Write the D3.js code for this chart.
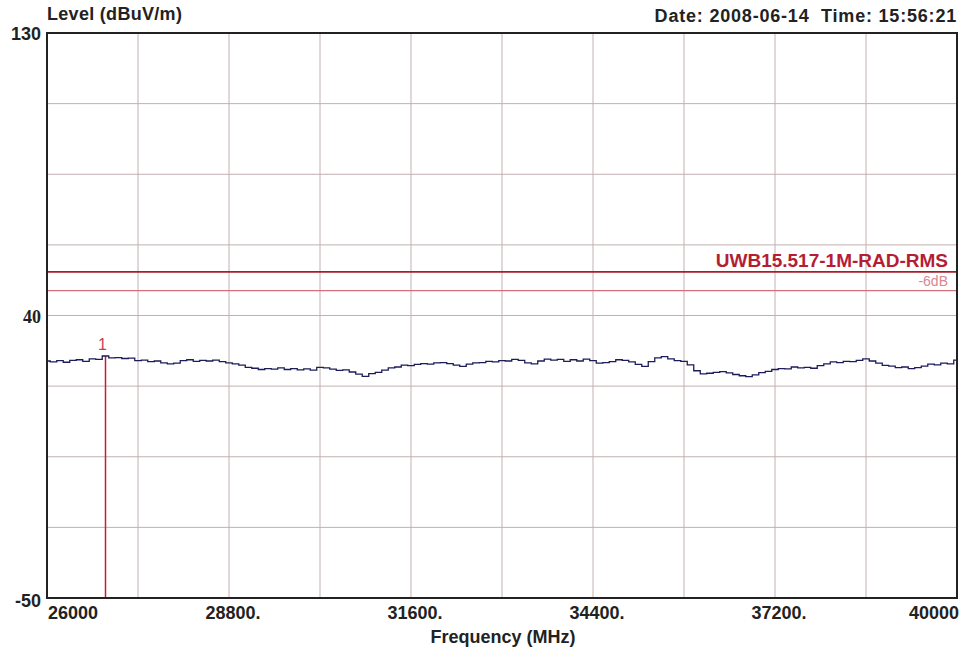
<!DOCTYPE html>
<html>
<head>
<meta charset="utf-8">
<script src="https://cdn.jsdelivr.net/npm/d3@7"></script>
<style>
  body { margin: 0; background: #fff; }
  text { font-family: "Liberation Sans", Arial, sans-serif; white-space: pre; }
</style>
</head>
<body id="body">
<script>
// values
var freqStart = 26000, freqEnd = 40000, freqStep = 100;
var levels = [
  25.5, 25.2, 25.6, 25.1, 25.7, 25.9, 25.4, 26.2, 26.0, 27.1,
  26.5, 26.6, 26.3, 26.4, 25.6, 25.8, 25.3, 25.5, 24.9, 24.6,
  24.8, 25.6, 25.9, 25.4, 25.7, 25.5, 25.8, 25.3, 24.9, 24.6,
  24.2, 23.5, 23.2, 22.8, 23.1, 22.9, 23.3, 22.8, 23.1, 22.7,
  23.0, 22.6, 23.5, 23.3, 22.9, 22.5, 22.7, 22.0, 21.3, 20.6,
  21.5, 21.9, 22.6, 23.3, 23.6, 24.2, 24.0, 24.4, 24.7, 24.5,
  24.9, 25.0, 24.7, 24.2, 23.8, 24.5, 24.9, 25.0, 25.4, 25.2,
  25.6, 25.5, 26.0, 25.7, 24.9, 24.6, 25.5, 26.1, 25.8, 26.0,
  25.4, 25.9, 25.5, 26.1, 25.6, 24.8, 25.0, 25.3, 25.9, 25.7,
  25.2, 24.4, 23.8, 25.3, 26.5, 26.9, 26.2, 25.6, 25.4, 24.3,
  22.4, 21.4, 21.6, 21.9, 22.1, 21.7, 21.2, 20.8, 20.5, 21.1,
  21.8, 22.2, 22.8, 23.1, 23.0, 23.6, 23.3, 23.5, 23.2, 24.0,
  24.6, 25.2, 25.0, 25.4, 25.3, 25.7, 26.2, 25.5, 24.8, 24.1,
  23.9, 23.4, 23.6, 23.1, 23.4, 23.9, 24.5, 24.3, 24.8, 24.6,
  25.8
];
var freqs = d3.range(freqStart, freqEnd + 1, freqStep);

var yTickValues = [130, 40, -50];
var xTickValues = [26000, 28800, 31600, 34400, 37200, 40000];
var xTickLabels = ["26000", "28800.", "31600.", "34400.", "37200.", "40000"];
var limitValue = 53.9;
var limitLabel = "UWB15.517-1M-RAD-RMS";
var limit6Value = 47.9;
var limit6Label = "-6dB";
var markerFreq = 26900;
var markerLabel = "1";

function RenderChart() {
    var W = 976, H = 649;
    var mLeft = 47, mTop = 33, pw = 910, ph = 565;

    var x = d3.scaleLinear().domain([freqStart, freqEnd]).range([mLeft, mLeft + pw]);
    var y = d3.scaleLinear().domain([-50, 130]).range([mTop + ph, mTop]);

    var svg = d3.select("body").append("svg")
        .attr("width", W)
        .attr("height", H);

    // grid
    var gridX = d3.range(freqStart, freqEnd + 1, 1400);
    var gridY = d3.range(-50, 130.01, 22.5);

    svg.append("g").selectAll("line").data(gridX).enter().append("line")
        .attr("x1", d => x(d)).attr("x2", d => x(d))
        .attr("y1", mTop).attr("y2", mTop + ph)
        .attr("stroke", "#c2b0b0").attr("stroke-width", 1);

    svg.append("g").selectAll("line").data(gridY).enter().append("line")
        .attr("x1", mLeft).attr("x2", mLeft + pw)
        .attr("y1", d => y(d)).attr("y2", d => y(d))
        .attr("stroke", "#c2b0b0").attr("stroke-width", 1);

    // limit lines
    svg.append("line")
        .attr("x1", mLeft).attr("x2", mLeft + pw)
        .attr("y1", y(limitValue)).attr("y2", y(limitValue))
        .attr("stroke", "#a81c2c").attr("stroke-width", 1.8);
    svg.append("line")
        .attr("x1", mLeft).attr("x2", mLeft + pw)
        .attr("y1", y(limit6Value)).attr("y2", y(limit6Value))
        .attr("stroke", "#d4707c").attr("stroke-width", 1.2);

    svg.append("text")
        .attr("x", mLeft + pw - 9).attr("y", y(limitValue) - 5)
        .attr("text-anchor", "end")
        .attr("font-weight", "bold").attr("font-size", 19)
        .attr("fill", "#b41e34")
        .text(limitLabel);
    svg.append("text")
        .attr("x", mLeft + pw - 9).attr("y", y(limit6Value) - 5)
        .attr("text-anchor", "end")
        .attr("font-size", 14)
        .attr("fill", "#d88890")
        .text(limit6Label);

    // marker
    var mIdx = freqs.indexOf(markerFreq);
    svg.append("line")
        .attr("x1", x(markerFreq)).attr("x2", x(markerFreq))
        .attr("y1", y(levels[mIdx])).attr("y2", mTop + ph)
        .attr("stroke", "#c02030").attr("stroke-width", 1.5);
    svg.append("text")
        .attr("x", x(markerFreq) - 3).attr("y", y(levels[mIdx]) - 6)
        .attr("text-anchor", "middle")
        .attr("font-size", 16)
        .attr("fill", "#c84050")
        .text(markerLabel);

    // trace
    var line = d3.line()
        .x((d, i) => x(freqs[i]))
        .y(d => y(d))
        .curve(d3.curveStep);
    svg.append("path")
        .datum(levels)
        .attr("d", line)
        .attr("fill", "none")
        .attr("stroke", "#1c1c5a")
        .attr("stroke-width", 1.3);

    // frame
    svg.append("rect")
        .attr("x", mLeft).attr("y", mTop)
        .attr("width", pw).attr("height", ph)
        .attr("fill", "none")
        .attr("stroke", "#222").attr("stroke-width", 2);

    // y labels
    svg.append("g").selectAll("text").data(yTickValues).enter().append("text")
        .attr("x", mLeft - 6)
        .attr("y", (d, i) => y(d) + (i == yTickValues.length - 1 ? 9 : 7))
        .attr("text-anchor", "end")
        .attr("font-weight", "bold").attr("font-size", 18)
        .style("font-family", d => d == 40 ? "'Liberation Serif', serif" : null)
        .attr("fill", "#222")
        .text(d => d);

    // x labels
    svg.append("g").selectAll("text").data(xTickValues).enter().append("text")
        .attr("x", (d, i) => i == 0 ? x(d) + 1 : (i == xTickValues.length - 1 ? x(d) + 2 : x(d) + 4))
        .attr("y", mTop + ph + 21)
        .attr("text-anchor", (d, i) => i == 0 ? "start" : (i == xTickValues.length - 1 ? "end" : "middle"))
        .attr("font-weight", "bold").attr("font-size", 18)
        .attr("fill", "#222")
        .text((d, i) => xTickLabels[i]);

    // titles
    svg.append("text")
        .attr("x", mLeft).attr("y", 20)
        .attr("font-weight", "bold").attr("font-size", 18)
        .attr("letter-spacing", 0.3)
        .attr("fill", "#222")
        .text("Level (dBuV/m)");
    svg.append("text")
        .attr("x", mLeft + pw).attr("y", 22)
        .attr("text-anchor", "end")
        .attr("font-weight", "bold").attr("font-size", 18)
        .attr("letter-spacing", 0.8)
        .attr("fill", "#222")
        .text("Date: 2008-06-14  Time: 15:56:21");
    svg.append("text")
        .attr("x", mLeft + pw / 2 + 1).attr("y", 643)
        .attr("text-anchor", "middle")
        .attr("font-weight", "bold").attr("font-size", 18)
        .attr("fill", "#222")
        .text("Frequency (MHz)");
}

RenderChart();
</script>
</body>
</html>
